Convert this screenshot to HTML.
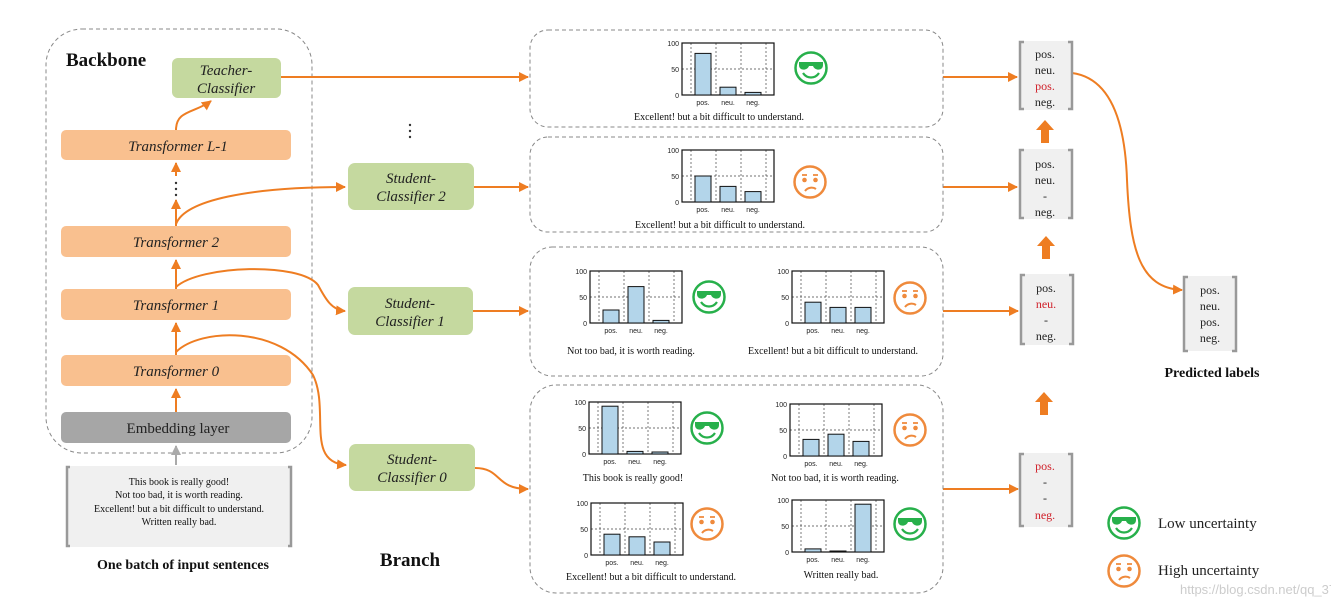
<!DOCTYPE html>
<html><head><meta charset="utf-8"><style>
html,body{margin:0;padding:0;background:#fff;}
svg{display:block;font-family:"Liberation Serif",serif;}
.ax{font-family:"Liberation Sans",sans-serif;font-size:7px;fill:#222;stroke:none;}
.cat{font-family:"Liberation Sans",sans-serif;font-size:7px;fill:#222;text-anchor:middle;stroke:none;}
.sent{font-size:10px;fill:#111;text-anchor:middle;}
.lab{font-size:12px;fill:#222;text-anchor:middle;}
.red{fill:#d0202a;}
.it{font-style:italic;font-size:15px;fill:#222;text-anchor:middle;}
</style></head><body>
<svg width="1331" height="608" viewBox="0 0 1331 608" xmlns="http://www.w3.org/2000/svg">
<defs>
<marker id="ah" viewBox="0 0 10 10" refX="9" refY="5" markerWidth="5" markerHeight="5" orient="auto"><path d="M0,0L10,5L0,10z" fill="#ee7d22"/></marker>
<marker id="ahg" viewBox="0 0 10 10" refX="9" refY="5" markerWidth="5" markerHeight="5" orient="auto"><path d="M0,0L10,5L0,10z" fill="#aaa"/></marker>
<g id="grid">
<g stroke="#444" stroke-width="0.7" stroke-dasharray="2,2">
<line x1="9" y1="0" x2="9" y2="52"/><line x1="34" y1="0" x2="34" y2="52"/><line x1="59" y1="0" x2="59" y2="52"/><line x1="84" y1="0" x2="84" y2="52"/>
<line x1="0" y1="26" x2="92" y2="26"/></g>
<rect x="0" y="0" width="92" height="52" fill="none" stroke="#111" stroke-width="1.2"/>
<text class="ax" x="-3" y="3" text-anchor="end">100</text>
<text class="ax" x="-3" y="29" text-anchor="end">50</text>
<text class="ax" x="-3" y="55" text-anchor="end">0</text>
<text class="cat" x="21" y="62">pos.</text><text class="cat" x="46" y="62">neu.</text><text class="cat" x="71" y="62">neg.</text>
</g>
<g id="happy">
<circle cx="0" cy="0" r="15.5" fill="#fff" stroke="#27b04b" stroke-width="2.5"/>
<path d="M-12,-6 H12 V-3 C12,3 4,3 2,-2 H-2 C-4,3 -12,3 -12,-3 Z" fill="#27b04b"/>
<path d="M-8,5 C-4,11 4,11 8,5" fill="none" stroke="#27b04b" stroke-width="2.2"/>
</g>
<g id="sad">
<circle cx="0" cy="0" r="15.5" fill="#fff" stroke="#ef8a3c" stroke-width="2.5"/>
<path d="M-8,-7 H-3 M3,-7 H8" stroke="#ef8a3c" stroke-width="1.8"/>
<circle cx="-5.5" cy="-2" r="2.3" fill="#ef8a3c"/><circle cx="5.5" cy="-2" r="2.3" fill="#ef8a3c"/>
<path d="M-5,9 C-2,5 3,5 6,7" fill="none" stroke="#ef8a3c" stroke-width="2"/>
</g>
</defs>

<!-- Backbone -->
<rect x="46" y="29" width="266" height="424" rx="36" fill="none" stroke="#888" stroke-width="1" stroke-dasharray="4,3"/>
<text x="66" y="66" font-weight="bold" font-size="19" fill="#111">Backbone</text>
<rect x="172" y="58" width="109" height="40" rx="6" fill="#c5d99f"/>
<text class="it" x="226" y="75" font-size="14">Teacher-</text>
<text class="it" x="226" y="93" font-size="14">Classifier</text>
<rect x="61" y="130" width="230" height="30" rx="5" fill="#f9c08f"/><text class="it" x="178" y="151">Transformer L-1</text>
<rect x="61" y="226" width="230" height="31" rx="5" fill="#f9c08f"/><text class="it" x="176" y="247">Transformer 2</text>
<rect x="61" y="289" width="230" height="31" rx="5" fill="#f9c08f"/><text class="it" x="176" y="310">Transformer 1</text>
<rect x="61" y="355" width="230" height="31" rx="5" fill="#f9c08f"/><text class="it" x="176" y="376">Transformer 0</text>
<rect x="61" y="412" width="230" height="31" rx="5" fill="#a6a6a6"/><text x="178" y="433" font-size="15" fill="#222" text-anchor="middle">Embedding layer</text>

<!-- input -->
<rect x="66" y="466" width="226" height="81" fill="#f0f0f0"/>
<path d="M70,467 h-3 v79 h3 M288,467 h3 v79 h-3" fill="none" stroke="#999" stroke-width="2.5"/>
<text class="sent" x="179" y="485">This book is really good!</text>
<text class="sent" x="179" y="498">Not too bad, it is worth reading.</text>
<text class="sent" x="179" y="512">Excellent!  but a bit difficult to understand.</text>
<text class="sent" x="179" y="525">Written really  bad.</text>
<text x="183" y="569" font-weight="bold" font-size="14" text-anchor="middle" fill="#111">One batch of input sentences</text>
<line x1="176" y1="465" x2="176" y2="446" stroke="#aaa" stroke-width="2" marker-end="url(#ahg)"/>

<!-- spine -->
<g stroke="#ee7d22" stroke-width="2" fill="none">
<line x1="176" y1="412" x2="176" y2="389" marker-end="url(#ah)"/>
<line x1="176" y1="355" x2="176" y2="323" marker-end="url(#ah)"/>
<line x1="176" y1="289" x2="176" y2="260" marker-end="url(#ah)"/>
<line x1="176" y1="226" x2="176" y2="200" marker-end="url(#ah)"/>
<line x1="176" y1="176" x2="176" y2="163" marker-end="url(#ah)"/>
<path d="M176,130 C176,110 195,113 211,101" marker-end="url(#ah)"/>
<path d="M176,224 C185,200 250,187 345,187" marker-end="url(#ah)"/>
<path d="M176,287 C200,265 300,262 318,285 C326,300 332,310 345,311" marker-end="url(#ah)"/>
<path d="M176,352 C200,328 280,325 313,375 C330,410 305,462 346,465" marker-end="url(#ah)"/>
<path d="M281,77 H528" marker-end="url(#ah)"/>
<path d="M474,187 H528" marker-end="url(#ah)"/>
<path d="M473,311 H528" marker-end="url(#ah)"/>
<path d="M475,468 C502,468 495,489 528,489" marker-end="url(#ah)"/>
<path d="M943,77 H1017" marker-end="url(#ah)"/>
<path d="M943,187 H1017" marker-end="url(#ah)"/>
<path d="M943,311 H1018" marker-end="url(#ah)"/>
<path d="M943,489 H1018" marker-end="url(#ah)"/>
<path d="M1072,73 C1110,78 1125,120 1127,180 C1130,250 1140,288 1182,290" marker-end="url(#ah)"/>
</g>
<g fill="#333"><circle cx="176" cy="183" r="1.2"/><circle cx="176" cy="189" r="1.2"/><circle cx="176" cy="195" r="1.2"/>
<circle cx="410" cy="125" r="1.2"/><circle cx="410" cy="131" r="1.2"/><circle cx="410" cy="137" r="1.2"/></g>

<!-- students -->
<rect x="348" y="163" width="126" height="47" rx="7" fill="#c5d99f"/>
<text class="it" x="411" y="183" font-size="14">Student-</text><text class="it" x="411" y="201" font-size="14">Classifier 2</text>
<rect x="348" y="287" width="125" height="48" rx="7" fill="#c5d99f"/>
<text class="it" x="410" y="308" font-size="14">Student-</text><text class="it" x="410" y="326" font-size="14">Classifier 1</text>
<rect x="349" y="444" width="126" height="47" rx="7" fill="#c5d99f"/>
<text class="it" x="412" y="464" font-size="14">Student-</text><text class="it" x="412" y="482" font-size="14">Classifier 0</text>
<text x="410" y="566" font-weight="bold" font-size="19" text-anchor="middle" fill="#111">Branch</text>

<!-- panels -->
<g fill="none" stroke="#888" stroke-width="1" stroke-dasharray="4,3">
<rect x="530" y="30" width="413" height="97" rx="18"/>
<rect x="530" y="137" width="413" height="95" rx="18"/>
<rect x="530" y="247" width="413" height="129" rx="22"/>
<rect x="530" y="385" width="413" height="208" rx="26"/>
</g>

<g fill="#b3d5ea" stroke="#111" stroke-width="1">
<g transform="translate(682,43)"><use href="#grid"/><rect x="13" y="10.4" width="16" height="41.6"/><rect x="38" y="44.2" width="16" height="7.8"/><rect x="63" y="49.4" width="16" height="2.6"/></g>
<g transform="translate(682,150)"><use href="#grid"/><rect x="13" y="26" width="16" height="26"/><rect x="38" y="36.4" width="16" height="15.6"/><rect x="63" y="41.6" width="16" height="10.4"/></g>
<g transform="translate(590,271)"><use href="#grid"/><rect x="13" y="39" width="16" height="13"/><rect x="38" y="15.6" width="16" height="36.4"/><rect x="63" y="49.4" width="16" height="2.6"/></g>
<g transform="translate(792,271)"><use href="#grid"/><rect x="13" y="31.2" width="16" height="20.8"/><rect x="38" y="36.4" width="16" height="15.6"/><rect x="63" y="36.4" width="16" height="15.6"/></g>
<g transform="translate(589,402)"><use href="#grid"/><rect x="13" y="4.2" width="16" height="47.8"/><rect x="38" y="49.4" width="16" height="2.6"/><rect x="63" y="50" width="16" height="2"/></g>
<g transform="translate(790,404)"><use href="#grid"/><rect x="13" y="35.4" width="16" height="16.6"/><rect x="38" y="30.2" width="16" height="21.8"/><rect x="63" y="37.4" width="16" height="14.6"/></g>
<g transform="translate(591,503)"><use href="#grid"/><rect x="13" y="31.2" width="16" height="20.8"/><rect x="38" y="33.8" width="16" height="18.2"/><rect x="63" y="39" width="16" height="13"/></g>
<g transform="translate(792,500)"><use href="#grid"/><rect x="13" y="48.9" width="16" height="3.1"/><rect x="38" y="51" width="16" height="1"/><rect x="63" y="4.2" width="16" height="47.8"/></g>
</g>

<use href="#happy" x="811" y="68"/>
<use href="#sad" x="810" y="182"/>
<use href="#happy" x="709" y="297"/>
<use href="#sad" x="910" y="298"/>
<use href="#happy" x="707" y="428"/>
<use href="#sad" x="910" y="430"/>
<use href="#sad" x="707" y="524"/>
<use href="#happy" x="910" y="524"/>

<text class="sent" x="719" y="120">Excellent!  but a bit difficult to understand.</text>
<text class="sent" x="720" y="228">Excellent!  but a bit difficult to understand.</text>
<text class="sent" x="631" y="354">Not too bad, it is worth reading.</text>
<text class="sent" x="833" y="354">Excellent!  but a bit difficult to understand.</text>
<text class="sent" x="633" y="481">This book is really good!</text>
<text class="sent" x="835" y="481">Not too bad, it is worth reading.</text>
<text class="sent" x="651" y="580">Excellent!  but a bit difficult to understand.</text>
<text class="sent" x="841" y="578">Written really  bad.</text>

<!-- label vectors -->
<g fill="#f0f0f0"><rect x="1020" y="41" width="52" height="69"/><rect x="1020" y="149" width="52" height="70"/><rect x="1021" y="274" width="52" height="71"/><rect x="1020" y="453" width="52" height="74"/><rect x="1184" y="276" width="52" height="75"/></g>
<g fill="none" stroke="#999" stroke-width="2.5">
<path d="M1024,42 h-4 v67 h4 M1068,42 h4 v67 h-4"/>
<path d="M1024,150 h-4 v68 h4 M1068,150 h4 v68 h-4"/>
<path d="M1025,275 h-4 v69 h4 M1069,275 h4 v69 h-4"/>
<path d="M1024,454 h-4 v72 h4 M1068,454 h4 v72 h-4"/>
<path d="M1188,277 h-4 v74 h4 M1232,277 h4 v74 h-4"/>
</g>
<text class="lab" x="1045" y="58">pos.</text><text class="lab" x="1045" y="74">neu.</text><text class="lab red" x="1045" y="90">pos.</text><text class="lab" x="1045" y="106">neg.</text>
<text class="lab" x="1045" y="168">pos.</text><text class="lab" x="1045" y="184">neu.</text><text class="lab" x="1045" y="200">-</text><text class="lab" x="1045" y="216">neg.</text>
<text class="lab" x="1046" y="292">pos.</text><text class="lab red" x="1046" y="308">neu.</text><text class="lab" x="1046" y="324">-</text><text class="lab" x="1046" y="340">neg.</text>
<text class="lab red" x="1045" y="470">pos.</text><text class="lab" x="1045" y="486">-</text><text class="lab" x="1045" y="502">-</text><text class="lab red" x="1045" y="519">neg.</text>
<text class="lab" x="1210" y="294">pos.</text><text class="lab" x="1210" y="310">neu.</text><text class="lab" x="1210" y="326">pos.</text><text class="lab" x="1210" y="342">neg.</text>
<g fill="#ee7d22">
<path d="M1045,120 l-9,10 h5 v13 h8 v-13 h5z"/>
<path d="M1046,236 l-9,10 h5 v13 h8 v-13 h5z"/>
<path d="M1044,392 l-9,10 h5 v13 h8 v-13 h5z"/>
</g>
<text x="1212" y="377" font-weight="bold" font-size="14" text-anchor="middle" fill="#111">Predicted labels</text>

<use href="#happy" x="1124" y="523"/>
<use href="#sad" x="1124" y="571"/>
<text x="1158" y="528" font-size="15" fill="#222">Low uncertainty</text>
<text x="1158" y="575" font-size="15" fill="#222">High uncertainty</text>
<text x="1180" y="594" font-family="Liberation Sans,sans-serif" font-size="13" fill="#ccc">https://blog.csdn.net/qq_37074299</text>
</svg>
</body></html>
